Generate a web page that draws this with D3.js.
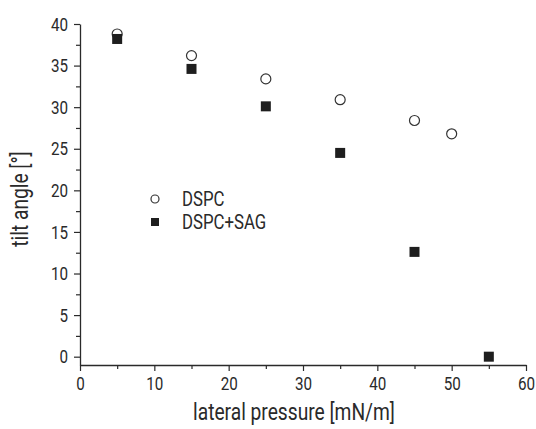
<!DOCTYPE html>
<html><head><meta charset="utf-8">
<script src="https://cdn.jsdelivr.net/npm/d3@7"></script>
<style>
body{margin:0;background:#fff;}
text{font-family:Roboto,"Liberation Sans",sans-serif;font-weight:400;fill:#2a2a2a;}
</style></head><body>
<svg id="c" width="536" height="429"></svg>
<script>
const pressure1 = [5, 15, 25, 35, 45, 50];
const dspc = [38.8, 36.2, 33.4, 30.9, 28.4, 26.8];
const pressure2 = [5, 15, 25, 35, 45, 55];
const dspcSag = [38.2, 34.6, 30.1, 24.5, 12.6, 0];
const xTicks = [0, 10, 20, 30, 40, 50, 60];
const yTicks = [0, 5, 10, 15, 20, 25, 30, 35, 40];
const seriesNames = ["DSPC", "DSPC+SAG"];

const K = 0.8; // horizontal condensing
const svg = d3.select("#c");
const x = d3.scaleLinear().domain([0, 60]).range([80, 526]);
const y = d3.scaleLinear().domain([-1, 40]).range([365, 24]);
const axCol = "#2a2a2a";

const xMinor = d3.range(5, 60, 10);
const yMinor = d3.range(2.5, 40, 5);

const gx = svg.append("g").attr("transform", "translate(0,365)")
  .call(d3.axisBottom(x).tickValues(xTicks).tickSize(6).tickPadding(3).tickSizeOuter(0));
const gxm = svg.append("g").attr("transform", "translate(0,365)")
  .call(d3.axisBottom(x).tickValues(xMinor).tickSize(4).tickFormat("").tickSizeOuter(0));
gxm.select(".domain").remove();
const gy = svg.append("g").attr("transform", "translate(80,0)")
  .call(d3.axisLeft(y).tickValues(yTicks).tickSize(6).tickPadding(6).tickSizeOuter(0));
const gym = svg.append("g").attr("transform", "translate(80,0)")
  .call(d3.axisLeft(y).tickValues(yMinor).tickSize(4).tickFormat("").tickSizeOuter(0));
gym.select(".domain").remove();

svg.selectAll(".domain").attr("stroke", axCol).attr("stroke-width", 1.3);
svg.selectAll(".tick line").attr("stroke", axCol).attr("stroke-width", 1.2);
svg.selectAll(".tick text").attr("font-size", 19).attr("fill", "#2a2a2a")
  .style("font-family", 'Roboto,sans-serif').style("font-weight", 400)
  .attr("transform", `scale(${K},1)`);
gx.selectAll(".tick text").attr("dy", "0.85em");
gy.selectAll(".tick text").attr("x", -12 / K);

svg.append("text").attr("transform", `translate(294,420) scale(${K},1)`).attr("text-anchor", "middle")
  .attr("font-size", 24).text("lateral pressure [mN/m]");
svg.append("text").attr("transform", `translate(28,199) rotate(-90) scale(${K},1)`).attr("text-anchor", "middle")
  .attr("font-size", 24).text("tilt angle [°]");

svg.append("g").selectAll("circle").data(pressure1.map((p, i) => [p, dspc[i]])).join("circle")
  .attr("cx", d => x(d[0])).attr("cy", d => y(d[1])).attr("r", 5)
  .attr("fill", "#fff").attr("stroke", "#333").attr("stroke-width", 1.2);
const s = 10;
svg.append("g").selectAll("rect").data(pressure2.map((p, i) => [p, dspcSag[i]])).join("rect")
  .attr("x", d => x(d[0]) - s / 2).attr("y", d => y(d[1]) - s / 2).attr("width", s).attr("height", s)
  .attr("fill", "#1e1e1e");

const lg = svg.append("g");
lg.append("circle").attr("cx", 155).attr("cy", 199).attr("r", 4).attr("fill", "#fff")
  .attr("stroke", "#333").attr("stroke-width", 1.2);
lg.append("rect").attr("x", 151).attr("y", 218).attr("width", 8).attr("height", 8).attr("fill", "#1e1e1e");
lg.append("text").attr("transform", `translate(182,206) scale(${K},1)`).attr("font-size", 21).text(seriesNames[0]);
lg.append("text").attr("transform", `translate(182,229) scale(${K},1)`).attr("font-size", 21).text(seriesNames[1]);
</script></body></html>
